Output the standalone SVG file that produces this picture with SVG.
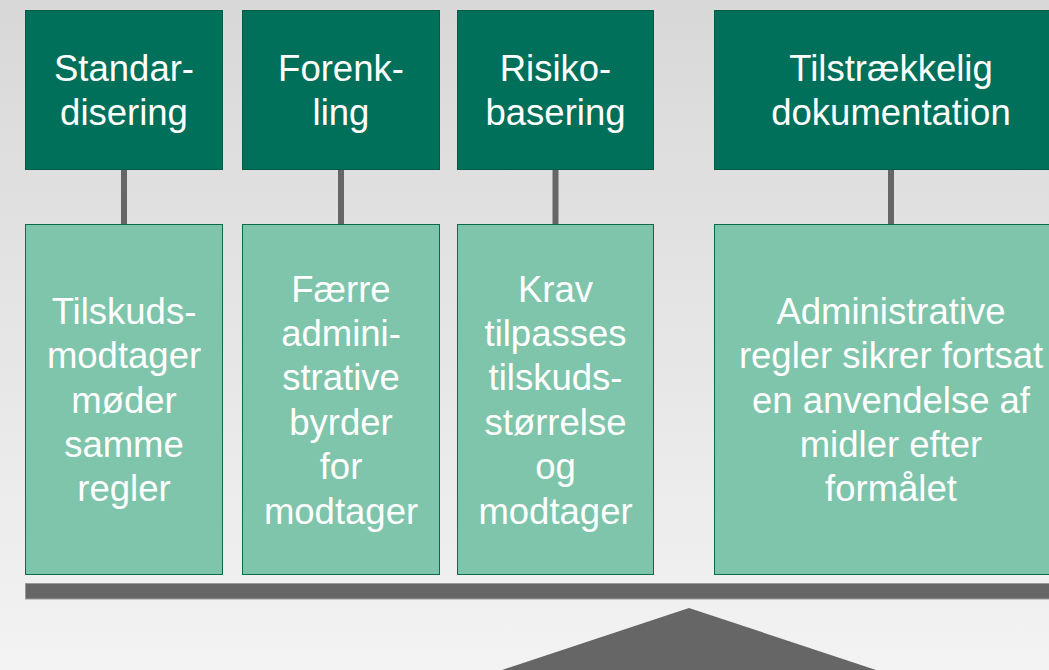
<svg xmlns="http://www.w3.org/2000/svg" width="1049" height="670" viewBox="0 0 1049 670">
  <defs>
    <linearGradient id="bg" x1="0" y1="0" x2="0" y2="1">
      <stop offset="0" stop-color="#d8d8d8"/>
      <stop offset="1" stop-color="#f3f3f3"/>
    </linearGradient>
    <style>
      .dark { fill: #00705a; stroke: #005c44; stroke-width: 1; }
      .light { fill: #7fc5ab; stroke: #0b6a4a; stroke-width: 1; }
      .t { font-family: "Liberation Sans", Arial, sans-serif; font-size: 36.5px; fill: #ffffff; text-anchor: middle; }
      .conn { stroke: #666666; stroke-width: 6; fill: none; }
    </style>
  </defs>
  <rect x="0" y="0" width="1049" height="670" fill="url(#bg)"/>

  <g id="connectors">
    <line class="conn" x1="124" y1="170" x2="124" y2="224"/>
    <line class="conn" x1="341" y1="170" x2="341" y2="224"/>
    <line class="conn" x1="555.5" y1="170" x2="555.5" y2="224"/>
    <line class="conn" x1="891" y1="170" x2="891" y2="224"/>
  </g>

  <g id="head1">
    <rect class="dark" x="25.5" y="10.5" width="197" height="159"/>
    <text class="t" x="124" y="81">Standar-</text>
    <text class="t" x="124" y="125.4">disering</text>
  </g>
  <g id="head2">
    <rect class="dark" x="242.5" y="10.5" width="197" height="159"/>
    <text class="t" x="341" y="81">Forenk-</text>
    <text class="t" x="341" y="125.4">ling</text>
  </g>
  <g id="head3">
    <rect class="dark" x="457.5" y="10.5" width="196" height="159"/>
    <text class="t" x="555.5" y="81">Risiko-</text>
    <text class="t" x="555.5" y="125.4">basering</text>
  </g>
  <g id="head4">
    <rect class="dark" x="714.5" y="10.5" width="354" height="159"/>
    <text class="t" x="891" y="81">Tilstrækkelig</text>
    <text class="t" x="891" y="125.4">dokumentation</text>
  </g>

  <g id="body1">
    <rect class="light" x="25.5" y="224.5" width="197" height="350"/>
    <text class="t" x="124" y="323.7">Tilskuds-</text>
    <text class="t" x="124" y="368.1">modtager</text>
    <text class="t" x="124" y="412.5">møder</text>
    <text class="t" x="124" y="456.9">samme</text>
    <text class="t" x="124" y="501.3">regler</text>
  </g>
  <g id="body2">
    <rect class="light" x="242.5" y="224.5" width="197" height="350"/>
    <text class="t" x="341" y="301.5">Færre</text>
    <text class="t" x="341" y="345.9">admini-</text>
    <text class="t" x="341" y="390.3">strative</text>
    <text class="t" x="341" y="434.7">byrder</text>
    <text class="t" x="341" y="479.1">for</text>
    <text class="t" x="341" y="523.5">modtager</text>
  </g>
  <g id="body3">
    <rect class="light" x="457.5" y="224.5" width="196" height="350"/>
    <text class="t" x="555.5" y="301.5">Krav</text>
    <text class="t" x="555.5" y="345.9">tilpasses</text>
    <text class="t" x="555.5" y="390.3">tilskuds-</text>
    <text class="t" x="555.5" y="434.7">størrelse</text>
    <text class="t" x="555.5" y="479.1">og</text>
    <text class="t" x="555.5" y="523.5">modtager</text>
  </g>
  <g id="body4">
    <rect class="light" x="714.5" y="224.5" width="354" height="350"/>
    <text class="t" x="891" y="323.7">Administrative</text>
    <text class="t" x="891" y="368.1">regler sikrer fortsat</text>
    <text class="t" x="891" y="412.5">en anvendelse af</text>
    <text class="t" x="891" y="456.9">midler efter</text>
    <text class="t" x="891" y="501.3">formålet</text>
  </g>

  <g id="balance">
    <rect x="25.5" y="583.5" width="1040" height="15.5" fill="#666666" stroke="#9a9a9a" stroke-width="1"/>
    <polygon points="689,608 502,670 876,670" fill="#666666"/>
  </g>
</svg>
